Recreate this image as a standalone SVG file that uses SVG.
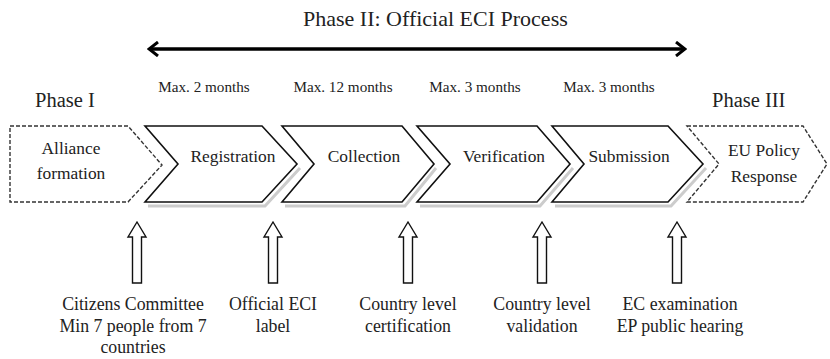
<svg xmlns="http://www.w3.org/2000/svg" width="830" height="359" viewBox="0 0 830 359">
<style>
text{font-family:"Liberation Serif","Times New Roman",serif;fill:#222;}
.t{font-size:17.4px;text-anchor:middle;}
.b{font-size:17.8px;text-anchor:middle;}
.m{font-size:15.2px;text-anchor:middle;}
.ph{font-size:20.5px;}
.solid{fill:#fff;stroke:#111;stroke-width:1.6;stroke-linejoin:miter;}
.dash{fill:#fff;stroke:#333;stroke-width:1.4;stroke-dasharray:4 2;}
.sh{fill:none;stroke:#ccc;stroke-width:3;}
.up{fill:#fff;stroke:#111;stroke-width:1.4;}
</style>
<defs>
<marker id="ah" viewBox="0 0 12 16" refX="10" refY="8" markerWidth="12" markerHeight="16" markerUnits="userSpaceOnUse" orient="auto-start-reverse">
<path d="M1,1 L10,8 L1,15" fill="none" stroke="#000" stroke-width="3"/>
</marker>
<path id="uparrow" d="M0,0 L9,15 L4.5,15 L4.5,61 L-4.5,61 L-4.5,15 L-9,15 Z"/>
</defs>
<text x="303" y="26" font-size="22">Phase II: Official ECI Process</text>
<g id="connectors">
<line x1="149" y1="49" x2="685" y2="49" stroke="#000" stroke-width="3.5" marker-start="url(#ah)" marker-end="url(#ah)"/>
<use href="#uparrow" x="137" y="222" class="up"/>
<use href="#uparrow" x="273" y="222" class="up"/>
<use href="#uparrow" x="408" y="222" class="up"/>
<use href="#uparrow" x="542" y="222" class="up"/>
<use href="#uparrow" x="677" y="222" class="up"/>
</g>
<text class="m" x="204" y="92">Max. 2 months</text>
<text class="m" x="343" y="92">Max. 12 months</text>
<text class="m" x="475" y="92">Max. 3 months</text>
<text class="m" x="609" y="92">Max. 3 months</text>
<text class="ph" x="35" y="107">Phase I</text>
<text class="ph" x="712" y="107">Phase III</text>
<g id="alliance">
<path class="dash" d="M10,126 L128,126 L162,165 L128,202 L10,202 Z"/>
<text class="t" x="71" y="154">Alliance</text>
<text class="t" x="71" y="179">formation</text>
</g>
<g id="registration">
<path class="sh" d="M148,206 L265,206 L300,168"/>
<path class="solid" d="M145,126 L262,126 L297,164 L262,202 L145,202 L178,164 Z"/>
<text class="t" x="233" y="162">Registration</text>
</g>
<g id="collection">
<path class="sh" d="M285,206 L405,206 L436,168"/>
<path class="solid" d="M282,126 L402,126 L434,164 L402,202 L282,202 L314,164 Z"/>
<text class="t" x="364" y="162">Collection</text>
</g>
<g id="verification">
<path class="sh" d="M420,206 L540,206 L573,168"/>
<path class="solid" d="M417,126 L537,126 L570,164 L537,202 L417,202 L450,164 Z"/>
<text class="t" x="504" y="162">Verification</text>
</g>
<g id="submission">
<path class="sh" d="M555,206 L671,206 L706,168"/>
<path class="solid" d="M552,126 L668,126 L703,164 L668,202 L552,202 L584,164 Z"/>
<text class="t" x="629" y="162">Submission</text>
</g>
<g id="eu-policy">
<path class="dash" d="M687,126 L803,126 L827,164 L803,202 L687,202 L719,164 Z"/>
<text class="t" x="764" y="156">EU Policy</text>
<text class="t" x="764" y="182">Response</text>
</g>
<g id="labels">
<text class="b" x="133" y="310">Citizens Committee</text>
<text class="b" x="133" y="332">Min 7 people from 7</text>
<text class="b" x="133" y="353">countries</text>
<text class="b" x="273" y="310">Official ECI</text>
<text class="b" x="273" y="332">label</text>
<text class="b" x="408" y="310">Country level</text>
<text class="b" x="408" y="332">certification</text>
<text class="b" x="542" y="310">Country level</text>
<text class="b" x="542" y="332">validation</text>
<text class="b" x="680" y="310">EC examination</text>
<text class="b" x="680" y="332">EP public hearing</text>
</g>
</svg>
